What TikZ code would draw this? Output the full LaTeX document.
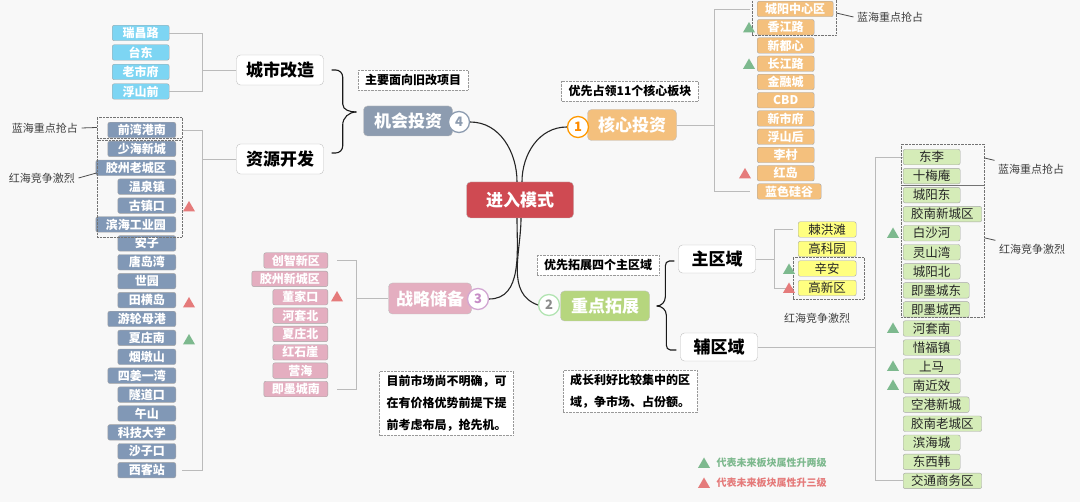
\documentclass[tikz,border=0pt]{standalone}
\usepackage{fontspec}
\setmainfont{Noto Sans CJK SC}
\usetikzlibrary{positioning,calc,fit,shapes.geometric}

\definecolor{bgcol}{HTML}{F8F8F8}
\definecolor{rootcol}{HTML}{CF4A52}
\definecolor{corecol}{HTML}{F4C07D}
\definecolor{focuscol}{HTML}{B6D67E}
\definecolor{reservecol}{HTML}{E4AEC0}
\definecolor{chancecol}{HTML}{8D9CB0}
\definecolor{citycol}{HTML}{7DD5F3}
\definecolor{rescol}{HTML}{8198B6}
\definecolor{keycol}{HTML}{FFFF80}
\definecolor{subcol}{HTML}{D5ECB8}
\definecolor{upgreen}{HTML}{7DB98E}
\definecolor{upred}{HTML}{E57B7B}
\definecolor{linecol}{HTML}{BBBBBB}

\begin{document}
\begin{tikzpicture}
        [x=1pt, y=-1pt,
         topic/.style={rectangle, rounded corners=4pt, draw=black!25, minimum width=89pt, minimum height=30pt, inner sep=0pt, text=white, font=\fontsize{17}{17}\selectfont\bfseries},
         plain/.style={topic, fill=white, text=black},
         leaf/.style={rectangle, rounded corners=2pt, draw=black!35, minimum width=57pt, minimum height=15.5pt, inner xsep=8pt, inner ysep=0pt, text=white, font=\fontsize{12}{12}\selectfont\bfseries},
         lightleaf/.style={leaf, text=black!85, font=\fontsize{12.5}{12.5}\selectfont},
         numc/.style={circle, fill=white, line width=1.3pt, minimum size=21pt, inner sep=0pt, font=\fontsize{13}{13}\selectfont\bfseries},
         note/.style={draw=black!40, densely dotted, fill=white, inner xsep=7pt, inner ysep=4pt, align=left, font=\fontsize{12}{22}\selectfont\bfseries},
         group/.style={draw=black!55, densely dotted, inner sep=0pt},
         tag/.style={text=black!75, font=\fontsize{11}{11}\selectfont},
         upg/.style={regular polygon, regular polygon sides=3, fill=upgreen, minimum size=14pt, inner sep=0pt},
         upr/.style={upg, fill=upred},
         branch/.style={draw=linecol, line width=0.9pt},
         stem/.style={draw=black!85, line width=1.1pt},
         brace/.style={draw=black!90, line width=1.1pt}]

        \fill[bgcol] (0,0) rectangle (1080,502);
        \useasboundingbox (0,0) rectangle (1080,502);

        \node[topic, fill=rootcol, minimum width=107pt, minimum height=36pt] (root) at (520,200) {进入模式};
        \node[topic, fill=corecol, minimum height=31pt] (core) at (632,125) {核心投资};
        \node[topic, fill=focuscol] (focus) at (605,306) {重点拓展};
        \node[topic, fill=reservecol, minimum width=83pt, minimum height=31pt] (reserve) at (430,298.5) {战略储备};
        \node[topic, fill=chancecol] (chance) at (408,121) {机会投资};
        \node[plain, minimum width=87pt] (renew) at (280,70) {城市改造};
        \node[plain, minimum width=87pt] (develop) at (280,159) {资源开发};
        \node[plain, minimum width=77pt, minimum height=28pt] (mainarea) at (717,259) {主区域};
        \node[plain, minimum width=77pt, minimum height=28pt] (subarea) at (719,347) {辅区域};

        \node[numc, draw=orange!80!yellow, text=orange!90!yellow] (num-1) at (578,127) {1};
        \node[numc, draw=black!35!green!30, text=black!45] (num-2) at (549,305) {2};
        \node[numc, draw=violet!35, text=violet!45] (num-3) at (478,299) {3};
        \node[numc, draw=chancecol, text=chancecol] (num-4) at (459,122) {4};

        \draw[stem] ([xshift=-3pt]root.north) to[out=90, in=0] (num-4.east);
        \draw[stem] ([xshift=2pt]root.north) to[out=90, in=180] (num-1.west);
        \draw[stem] ([xshift=-3pt]root.south) to[out=-90, in=0] (num-3.east);
        \draw[stem] ([xshift=1pt]root.south) to[out=-90, in=160] (num-2.west);

        \node[note] (chance-note) at (413,80) {主要面向旧改项目};
        \node[note] (core-note) at (630,91) {优先占领11个核心板块};
        \node[note] (focus-note) at (598,265) {优先拓展四个主区域};
        \node[note] (reserve-text) at (446.5,403.5) {目前市场尚不明确，可\\在有价格优势前提下提\\前考虑布局，抢先机。};
        \node[note] (focus-text) at (630,391.5) {成长利好比较集中的区\\域，争市场、占份额。};

        \coordinate (chance-tip) at ([xshift=-7pt, yshift=9pt]chance.west);
        \draw[brace] ([xshift=8pt]renew.east) -- ++(4,0) to[out=0, in=90] ++(7,7) -- ++(0,27) to[out=-90, in=180] (chance-tip);
        \draw[brace] ([xshift=8pt, yshift=6pt]develop.east) -- ++(4,0) to[out=0, in=-90] ++(7,-7) -- ++(0,-21) to[out=90, in=180] (chance-tip);

        \coordinate (focus-tip) at ([xshift=7pt]focus.east);
        \draw[brace] ([xshift=-4pt, yshift=-2pt]mainarea.west) -- ++(-5,0) to[out=180, in=90] ++(-4,5) -- ++(0,31) to[out=-90, in=0] (focus-tip);
        \draw[brace] ([xshift=-4pt, yshift=-3pt]subarea.west) -- ++(-6,0) to[out=180, in=-90] ++(-4,-5) -- ++(0,-30) to[out=90, in=0] (focus-tip);

        \foreach \t [count=\i] in {瑞昌路, 台东, 老市府, 浮山前}
        \node[leaf, fill=citycol, anchor=west] (city-\i) at (112, 13.5+\i*19.5) {\t};

        \foreach \t [count=\i] in {前湾港南, 少海新城, 胶州老城区, 温泉镇, 古镇口, 滨海工业园, 安子, 唐岛湾, 世园, 田横岛, 游轮母港, 夏庄南, 烟墩山, 四姜一湾, 隧道口, 午山, 科技大学, 沙子口, 西客站}
        \node[leaf, fill=rescol, minimum width=58pt, inner xsep=10pt, anchor=east] (res-\i) at (176, 111.1+\i*18.9) {\t};

        \foreach \t [count=\i] in {城阳中心区, 香江路, 新都心, 长江路, 金融城, CBD, 新市府, 浮山后, 李村, 红岛, 蓝色硅谷}
        \node[leaf, fill=corecol, anchor=west] (core-\i) at (757, -9.25+\i*18.25) {\t};

        \foreach \t [count=\i] in {创智新区, 胶州新城区, 董家口, 河套北, 夏庄北, 红石崖, 营海, 即墨城南}
        \node[leaf, fill=reservecol, minimum width=55pt, anchor=east] (store-\i) at (328, 242.14+\i*18.36) {\t};

        \foreach \t [count=\i] in {棘洪滩, 高科园, 辛安, 高新区}
        \node[lightleaf, fill=keycol, minimum width=58pt, anchor=west] (key-\i) at (798, 210+\i*19.5) {\t};

        \foreach \t [count=\i] in {东李, 十梅庵, 城阳东, 胶南新城区, 白沙河, 灵山湾, 城阳北, 即墨城东, 即墨城西, 河套南, 惜福镇, 上马, 南近效, 空港新城, 胶南老城区, 滨海城, 东西韩, 交通商务区}
        \node[lightleaf, fill=subcol, anchor=west] (sub-\i) at (903, 138+\i*19.05) {\t};

        \draw[branch] (renew.west) -- ++(-34,0) coordinate (city-fork);
        \draw[branch] (city-1.east) -| (city-fork) |- (city-4.east);

        \draw[branch] (develop.west) -- ++(-34,0) coordinate (res-fork);
        \draw[branch] ([xshift=6pt]res-1.east) -| (res-fork) |- ([xshift=6pt]res-19.east);

        \draw[branch] (core.east) -- ++(38,0) coordinate (core-fork);
        \draw[branch] ([xshift=-7pt]core-1.west) -| (core-fork) |- ([xshift=-7pt]core-11.west);

        \draw[branch] (reserve.west) -- ++(-32,0) coordinate (store-fork);
        \draw[branch] ([xshift=9pt]store-1.east) -| (store-fork) |- ([xshift=9pt]store-8.east);

        \draw[branch] (mainarea.east) -- ++(19,0) coordinate (key-fork);
        \draw[branch] ([xshift=-5pt]key-1.west) -| (key-fork) |- ([xshift=-5pt]key-4.west);

        \draw[branch] (subarea.east) -- ++(118,0) coordinate (sub-fork);
        \draw[branch] (sub-1.west) -| (sub-fork) |- (sub-18.west);

        \node[group, fit={(752,-1) (836,35)}] (core-blue) {};
        \node[group, fit={(97,117) (182,138)}] (res-blue) {};
        \node[group, fit={(97,140) (182,237)}] (res-red) {};
        \node[group, fit={(793,257) (864,299)}] (key-red) {};
        \node[group, fit={(901,144) (984,185)}] (sub-blue) {};
        \node[group, fit={(901,185) (984,317)}] (sub-red) {};

        \node[tag] (res-bluetag) at (45,128) {蓝海重点抢占};
        \node[tag] (res-redtag) at (42,178) {红海竞争激烈};
        \node[tag] (core-bluetag) at (890,17) {蓝海重点抢占};
        \node[tag] (sub-bluetag) at (1031,169) {蓝海重点抢占};
        \node[tag] (sub-redtag) at (1032,249) {红海竞争激烈};
        \node[tag] (key-redtag) at (817,318) {红海竞争激烈};

        \draw[black!70, line width=0.8pt] (res-bluetag.east) -- (res-blue.west);
        \draw[black!70, line width=0.8pt] (res-redtag.east) -- ($(res-red.north west)!0.34!(res-red.south west)$);
        \draw[black!70, line width=0.8pt] ($(core-blue.north east)!0.39!(core-blue.south east)$) -- (core-bluetag.west);
        \draw[black!70, line width=0.8pt] ($(sub-blue.north east)!0.34!(sub-blue.south east)$) -- (sub-bluetag.north west);
        \draw[black!70, line width=0.8pt] ($(sub-red.north east)!0.4!(sub-red.south east)$) -- (sub-redtag.north west);

        \foreach \p [count=\i] in {(749,29), (749,65.5), (189,341), (893,234.5), (893,329.5), (893,367.5), (893,386.5), (789,270.5)}
        \node[upg] (upg-\i) at \p {};

        \foreach \p [count=\i] in {(745,175), (189,208), (189,304), (337,298), (789,289.5)}
        \node[upr] (upr-\i) at \p {};

        \node[upg] (legend-g) at (704,464.5) {};
        \node[upr] (legend-r) at (704,484.5) {};
        \node[anchor=west, text=upgreen, font=\fontsize{10}{10}\selectfont\bfseries] (legend-gtext) at (713,463) {代表未来板块属性升两级};
        \node[anchor=west, text=upred, font=\fontsize{10}{10}\selectfont\bfseries] (legend-rtext) at (713,483) {代表未来板块属性升三级};

    \end{tikzpicture}
\end{document}
